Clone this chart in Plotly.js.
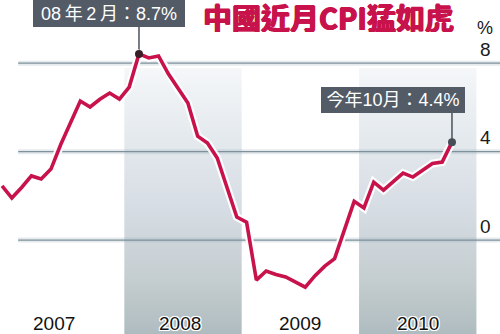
<!DOCTYPE html>
<html>
<head>
<meta charset="utf-8">
<script src="https://cdn.plot.ly/plotly-3.0.1.min.js"></script>
<style>html,body{margin:0;padding:0;background:#fff;}#chart{width:500px;height:334px;}</style>
</head>
<body>
<div id="chart"></div>
<script>
// ---- data (month index: 0 = Jan 2007) ----
const startMonth = -1; // Dec 2006
const cpi = [
  2.45,
  1.90, 2.38, 2.90, 2.76, 3.21, 4.32, 5.33, 6.29, 6.02, 6.37, 6.65, 6.38,
  6.92, 8.42, 8.24, 8.33, 7.52, 6.83, 6.20, 4.70, 4.39, 3.71, 2.38, 1.04,
  0.81, -1.81, -1.40, -1.56, -1.67, -1.92, -2.13, -1.61, -1.18, -0.84, 0.50, 1.75,
  1.45, 2.62, 2.26, 2.65, 3.03, 2.85, 3.17, 3.46, 3.53, 4.43
];
const years = [2007, 2008, 2009, 2010];
const shadedYears = [2008, 2010];
const yTicks = [8, 4, 0];
const highlightIdx = [14, 46];
const highlightText = ['08\u2009年\u20092\u2009月：8.7%', '今年10月：4.4%'];
const titleText = '中國近月CPI猛如虎';

// ---- scales ----
const xRange = [-1.21, 49.91];
const yRange = [-4.25, 10.86];
const xs = cpi.map((_, i) => startMonth + i);
const yearStart = y => (y - 2007) * 12 - 0.5;
const yearEnd = y => (y - 2007) * 12 + 11.5;
const bandTop = 7.78;
const gridStart = 0.65;

const latin = 'Liberation Sans, Arial, Noto Sans CJK TC, sans-serif';
const cjk = 'Liberation Sans, Noto Sans CJK TC, sans-serif';
const red = '#c8124b';
const outline = '1px 1px 0 #fff, -1px -1px 0 #fff, 1px -1px 0 #fff, -1px 1px 0 #fff, 0 1px 0 #fff, 0 -1px 0 #fff, 1px 0 0 #fff, -1px 0 0 #fff';
const heavy = '0.7px 0 0 ' + red + ', -0.7px 0 0 ' + red + ', 0 0.5px 0 ' + red + ', 0 -0.5px 0 ' + red +
  ', 2px 2px 0 #fff, -2px -2px 0 #fff, 2px -2px 0 #fff, -2px 2px 0 #fff, 0 2px 0 #fff, 0 -2px 0 #fff, 2px 0 0 #fff, -2px 0 0 #fff';

// shaded year bands as one filled trace with vertical gradient
const bx = [], by = [];
shadedYears.forEach(y => {
  bx.push(yearStart(y), yearEnd(y), yearEnd(y), yearStart(y), yearStart(y), null);
  by.push(yRange[0], yRange[0], bandTop, bandTop, yRange[0], null);
});
const traces = [];
traces.push({
  x: bx, y: by, type: 'scatter', mode: 'lines', fill: 'toself',
  line: {width: 0, color: 'rgba(0,0,0,0)'},
  fillgradient: {type: 'vertical', colorscale: [
    [0, '#afbcbf'], [0.2, '#c4cdd0'], [0.5, '#d8dee5'], [0.77, '#e6ebef'], [1, '#f5f7f9']
  ]},
  hoverinfo: 'skip', showlegend: false
});
// gridlines (glow + line)
yTicks.forEach(t => {
  traces.push({x: [gridStart, xRange[1]], y: [t, t], mode: 'lines', type: 'scatter',
    line: {color: 'rgba(150,170,185,0.25)', width: 5}, hoverinfo: 'skip', showlegend: false});
  traces.push({x: [gridStart, xRange[1]], y: [t, t], mode: 'lines', type: 'scatter',
    line: {color: '#7f909b', width: 1.3}, hoverinfo: 'skip', showlegend: false});
});
// connector lines from highlighted points up to their boxes
const boxBottomPx = [27, 113];
highlightIdx.forEach((idx, k) => {
  const yTopVal = yRange[1] - boxBottomPx[k] / 334 * (yRange[1] - yRange[0]);
  traces.push({x: [xs[idx], xs[idx]], y: [cpi[idx], yTopVal], mode: 'lines', type: 'scatter',
    line: {color: '#4a525c', width: 1.5}, hoverinfo: 'skip', showlegend: false});
});
// white halo + red line
traces.push({x: xs, y: cpi, type: 'scatter', mode: 'lines',
  line: {color: 'rgba(255,255,255,0.9)', width: 8, shape: 'linear'}, hoverinfo: 'skip', showlegend: false});
traces.push({x: xs, y: cpi, type: 'scatter', mode: 'lines',
  line: {color: red, width: 3.6, shape: 'linear'}, hoverinfo: 'skip', showlegend: false});
// highlighted markers
traces.push({x: highlightIdx.map(i => xs[i]), y: highlightIdx.map(i => cpi[i]), type: 'scatter', mode: 'markers',
  marker: {color: ['#3a1e28', '#474e58'], size: 8, line: {width: 0}}, hoverinfo: 'skip', showlegend: false});

const annotations = [];
// title
annotations.push({xref: 'paper', yref: 'paper', x: 328 / 500, y: 1, xanchor: 'center', yanchor: 'top',
  text: '<b>' + titleText + '</b>', showarrow: false, height: 31, borderpad: 0, valign: 'middle',
  font: {family: 'Noto Sans CJK TC, sans-serif', size: 29, color: red, weight: 900, shadow: heavy}});
// highlight boxes
const boxLeftShift = [-106, -131];
const boxTopPx = [0, 87];
const boxW = [144, 136];
const boxH = [19, 18];
highlightIdx.forEach((idx, k) => {
  annotations.push({xref: 'x', yref: 'paper', x: xs[idx], xshift: boxLeftShift[k], xanchor: 'left',
    y: 1 - boxTopPx[k] / 334, yanchor: 'top', showarrow: false, text: highlightText[k],
    bgcolor: '#535b67', borderpad: 4, borderwidth: 0, width: boxW[k], height: boxH[k], align: 'center', valign: 'middle',
    font: {family: cjk, size: 18, color: '#ffffff'}});
});
// right axis labels
yTicks.forEach(t => {
  annotations.push({xref: 'paper', yref: 'y', x: 485 / 500, y: t, yshift: 14, xanchor: 'center', yanchor: 'middle',
    text: String(t), showarrow: false, font: {family: latin, size: 19, color: '#1a1a1a'}});
});
annotations.push({xref: 'paper', yref: 'paper', x: 485 / 500, y: 1 - 28 / 334, xanchor: 'center', yanchor: 'middle',
  text: '%', showarrow: false, font: {family: latin, size: 18, color: '#1a1a1a'}});
// year labels
years.forEach(y => {
  const c = (yearStart(y) + yearEnd(y)) / 2;
  annotations.push({xref: 'x', yref: 'paper', x: c, xshift: y === 2007 ? -12 : (y === 2008 ? -3 : 0),
    y: 1 - 323.5 / 334, yanchor: 'middle', xanchor: 'center', text: String(y), showarrow: false,
    font: {family: latin, size: 19, color: '#111111', shadow: outline}});
});

const layout = {
  width: 500, height: 334,
  margin: {l: 0, r: 0, t: 0, b: 0, pad: 0},
  paper_bgcolor: '#ffffff', plot_bgcolor: '#ffffff',
  xaxis: {range: xRange, visible: false, fixedrange: true},
  yaxis: {range: yRange, visible: false, fixedrange: true},
  showlegend: false,
  annotations: annotations,
  hovermode: false
};
Plotly.newPlot('chart', traces, layout, {staticPlot: true, displayModeBar: false});
</script>
</body>
</html>
